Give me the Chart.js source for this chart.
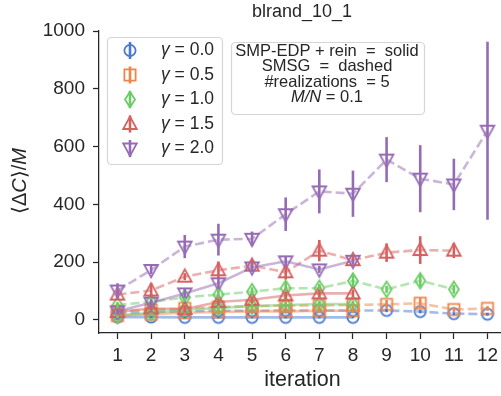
<!DOCTYPE html>
<html>
<head>
<meta charset="utf-8">
<script src="https://cdn.jsdelivr.net/npm/chart.js@4.4.1/dist/chart.umd.min.js"></script>
<style>
  html, body { margin: 0; padding: 0; background: #fff; overflow: hidden; }
  #wrap { width: 515px; height: 396px; }
</style>
</head>
<body>
<div id="wrap"><canvas id="c" width="515" height="396"></canvas></div>
<script>
// ---- data ----
const iterations = [1, 2, 3, 4, 5, 6, 7, 8, 9, 10, 11, 12];
const gammaLabels = ['0.0', '0.5', '1.0', '1.5', '2.0'];
const yTicks = [0, 200, 400, 600, 800, 1000];

// SMSG (dashed)
const smsg_g00 = [22, 28, 30, 32, 32, 33, 33, 33, 33, 29, 22, 20];
const smsg_g05 = [30, 35, 40, 45, 48, 50, 50, 52, 54, 58, 36, 40];
const smsg_g10 = [52, 63, 78, 88, 98, 110, 110, 135, 106, 136, 106];
const smsg_g15 = [88, 102, 150, 172, 188, 165, 240, 207, 233, 242, 240];
const smsg_g20 = [102, 173, 254, 278, 281, 366, 445, 437, 555, 489, 469, 655];
const smsg_err_g00 = [5, 5, 5, 5, 5, 5, 5, 5, 6, 6, 5, 5];
const smsg_err_g05 = [15, 18, 15, 15, 15, 15, 15, 15, 15, 18, 8, 8];
const smsg_err_g10 = [10, 15, 15, 20, 15, 20, 15, 20, 12, 20, 15];
const smsg_err_g15 = [15, 25, 12, 30, 20, 25, 37, 15, 32, 48, 26];
const smsg_err_g20 = [25, 14, 40, 55, 25, 58, 76, 80, 78, 116, 89, 308];

// SMP-EDP + rein (solid)
const smp_g00 = [10, 10, 9, 9, 9, 9, 9, 9];
const smp_g05 = [15, 20, 25, 28, 30, 30, 32, 32];
const smp_g10 = [15, 25, 35, 42, 48, 52, 55, 55];
const smp_g15 = [28, 40, 38, 62, 70, 85, 92, 92];
const smp_g20 = [30, 60, 92, 127, 182, 203, 175, 205];
const smp_err_g00 = [3, 3, 3, 3, 3, 3, 3, 3];
const smp_err_g05 = [6, 6, 6, 6, 6, 6, 6, 6];
const smp_err_g10 = [8, 8, 8, 8, 8, 8, 8, 8];
const smp_err_g15 = [10, 15, 12, 12, 12, 12, 12, 12];
const smp_err_g20 = [10, 12, 15, 20, 15, 15, 12, 10];

const colors = ['#4878d0', '#ee854a', '#6acc64', '#d65f5f', '#956cb4'];
const shapes = ['circle', 'square', 'diamond', 'triUp', 'triDown'];

const FONT = '"Liberation Sans", Arial, Helvetica, sans-serif';

function rgba(hex, a) {
  const n = parseInt(hex.slice(1), 16);
  return `rgba(${(n >> 16) & 255},${(n >> 8) & 255},${n & 255},${a})`;
}

function drawShape(ctx, shape, cx, cy, color, lw) {
  ctx.save();
  ctx.strokeStyle = color;
  ctx.lineWidth = lw;
  ctx.lineJoin = 'miter';
  ctx.beginPath();
  if (shape === 'circle') {
    ctx.arc(cx, cy, 5.6, 0, Math.PI * 2);
  } else if (shape === 'square') {
    ctx.rect(cx - 5.6, cy - 5.6, 11.2, 11.2);
  } else if (shape === 'diamond') {
    ctx.moveTo(cx, cy - 7.8); ctx.lineTo(cx + 5, cy); ctx.lineTo(cx, cy + 7.8); ctx.lineTo(cx - 5, cy); ctx.closePath();
  } else if (shape === 'triUp') {
    ctx.moveTo(cx, cy - 7.4); ctx.lineTo(cx + 6.8, cy + 5); ctx.lineTo(cx - 6.8, cy + 5); ctx.closePath();
  } else if (shape === 'triDown') {
    ctx.moveTo(cx, cy + 7.4); ctx.lineTo(cx + 6.8, cy - 5); ctx.lineTo(cx - 6.8, cy - 5); ctx.closePath();
  }
  ctx.stroke();
  ctx.restore();
}

function markerImage(shape, color) {
  const c = document.createElement('canvas');
  c.width = 20; c.height = 20;
  drawShape(c.getContext('2d'), shape, 10, 10, color, 1.8);
  return c;
}

function pts(vals) { return vals.map((v, i) => ({ x: iterations[i], y: v })); }

const smsgSeries = [smsg_g00, smsg_g05, smsg_g10, smsg_g15, smsg_g20];
const smsgErrs = [smsg_err_g00, smsg_err_g05, smsg_err_g10, smsg_err_g15, smsg_err_g20];
const smpSeries = [smp_g00, smp_g05, smp_g10, smp_g15, smp_g20];
const smpErrs = [smp_err_g00, smp_err_g05, smp_err_g10, smp_err_g15, smp_err_g20];

const datasets = [];
for (let g = 0; g < 5; g++) {
  const img = markerImage(shapes[g], colors[g]);
  datasets.push({
    label: 'SMP γ=' + gammaLabels[g], data: pts(smpSeries[g]), errs: smpErrs[g], col: colors[g],
    borderColor: rgba(colors[g], 0.5), borderWidth: 2.6, pointStyle: img, pointRadius: 6,
    fill: false, tension: 0, order: 10 - g
  });
  datasets.push({
    label: 'SMSG γ=' + gammaLabels[g], data: pts(smsgSeries[g]), errs: smsgErrs[g], col: colors[g],
    borderColor: rgba(colors[g], 0.5), borderWidth: 2.6, borderDash: [9, 4], pointStyle: img, pointRadius: 6,
    fill: false, tension: 0, order: 10 - g
  });
}

const errorBars = {
  id: 'errorBars',
  afterDatasetsDraw(chart) {
    const ctx = chart.ctx, xs = chart.scales.x, ys = chart.scales.y;
    ctx.save();
    ctx.beginPath();
    ctx.rect(chart.chartArea.left, chart.chartArea.top, chart.chartArea.right - chart.chartArea.left, chart.chartArea.bottom - chart.chartArea.top);
    ctx.clip();
    chart.data.datasets.forEach(ds => {
      ctx.strokeStyle = ds.col;
      ctx.lineWidth = 2.6;
      ds.data.forEach((p, i) => {
        const e = ds.errs[i];
        const px = xs.getPixelForValue(p.x);
        ctx.beginPath();
        ctx.moveTo(px, ys.getPixelForValue(p.y - e));
        ctx.lineTo(px, ys.getPixelForValue(p.y + e));
        ctx.stroke();
      });
    });
    ctx.restore();
  }
};

const decorations = {
  id: 'decorations',
  afterDraw(chart) {
    const ctx = chart.ctx;
    ctx.save();
    // title
    ctx.fillStyle = '#262626';
    ctx.font = '18px ' + FONT;
    ctx.textAlign = 'center';
    ctx.textBaseline = 'middle';
    ctx.fillText('blrand_10_1', 302, 12);

    // y-axis label with mixed italic
    ctx.save();
    ctx.translate(20, 181);
    ctx.rotate(-Math.PI / 2);
    const parts = [['⟨Δ', false], ['C', true], ['⟩/', false], ['M', true]];
    const fs = 20;
    let total = 0;
    parts.forEach(p => { ctx.font = (p[1] ? 'italic ' : '') + fs + 'px ' + FONT; total += ctx.measureText(p[0]).width; });
    let x = -total / 2;
    ctx.textAlign = 'left';
    parts.forEach(p => { ctx.font = (p[1] ? 'italic ' : '') + fs + 'px ' + FONT; ctx.fillText(p[0], x, 0); x += ctx.measureText(p[0]).width; });
    ctx.restore();

    // legend box
    function roundBox(x0, y0, w, h) {
      ctx.beginPath();
      ctx.roundRect(x0, y0, w, h, 4);
      ctx.fillStyle = 'rgba(255,255,255,0.8)';
      ctx.fill();
      ctx.strokeStyle = '#d6d6d6';
      ctx.lineWidth = 1.2;
      ctx.stroke();
    }
    roundBox(107.5, 37.5, 115, 127);
    for (let g = 0; g < 5; g++) {
      const cy = 50.5 + g * 24.5;
      ctx.strokeStyle = colors[g];
      ctx.lineWidth = 2.6;
      ctx.beginPath(); ctx.moveTo(130, cy - 8.5); ctx.lineTo(130, cy + 8.5); ctx.stroke();
      drawShape(ctx, shapes[g], 130, cy, colors[g], 1.8);
      ctx.fillStyle = '#262626';
      ctx.textAlign = 'left';
      ctx.font = 'italic 17.5px ' + FONT;
      ctx.fillText('γ', 161, cy);
      const gw = ctx.measureText('γ').width;
      ctx.font = '17.5px ' + FONT;
      ctx.fillText(' = ' + gammaLabels[g], 161 + gw, cy);
    }

    // info box
    roundBox(231.5, 42.5, 193, 72);
    ctx.fillStyle = '#262626';
    ctx.textAlign = 'center';
    const bf = '16.5px ' + FONT;
    ctx.font = bf;
    ctx.fillText('SMP-EDP + rein  =  solid', 327, 51);
    ctx.fillText('SMSG  =  dashed', 327, 66);
    ctx.fillText('#realizations  = 5', 327, 82);
    const seg = [['M', true], ['/', true], ['N', true], [' = 0.1', false]];
    let tw = 0;
    seg.forEach(s => { ctx.font = (s[1] ? 'italic ' : '') + bf; tw += ctx.measureText(s[0]).width; });
    let sx = 327 - tw / 2;
    ctx.textAlign = 'left';
    seg.forEach(s => { ctx.font = (s[1] ? 'italic ' : '') + bf; ctx.fillText(s[0], sx, 97); sx += ctx.measureText(s[0]).width; });
    ctx.restore();
  }
};

new Chart(document.getElementById('c'), {
  type: 'line',
  data: { datasets },
  options: {
    responsive: false,
    animation: false,
    events: [],
    layout: { padding: { left: 0, right: 9, top: 31, bottom: 0 } },
    plugins: { legend: { display: false }, tooltip: { enabled: false }, title: { display: false } },
    scales: {
      x: {
        type: 'linear', min: 0.45, max: 12.55,
        afterBuildTicks(s) { s.ticks = iterations.map(v => ({ value: v })); },
        afterFit(s) { s.height = 63; },
        ticks: { color: '#262626', font: { family: FONT, size: 19 }, padding: 5, maxRotation: 0, autoSkip: false,
                 callback: v => String(v) },
        grid: { drawOnChartArea: false, drawTicks: true, tickLength: 6, color: '#262626', tickWidth: 1.25 },
        border: { display: true, color: '#262626', width: 1.25 },
        title: { display: true, text: 'iteration', color: '#262626', font: { family: FONT, size: 21.5 }, padding: { top: 0, bottom: 3 } }
      },
      y: {
        type: 'linear', min: -45, max: 1000,
        afterBuildTicks(s) { s.ticks = yTicks.map(v => ({ value: v })); },
        afterFit(s) { s.width = 99; },
        ticks: { color: '#262626', font: { family: FONT, size: 19 }, padding: 8, callback: v => String(v) },
        grid: { drawOnChartArea: false, drawTicks: true, tickLength: 6, color: '#262626', tickWidth: 1.25 },
        border: { display: true, color: '#262626', width: 1.25 }
      }
    }
  },
  plugins: [errorBars, decorations]
});
</script>
</body>
</html>
